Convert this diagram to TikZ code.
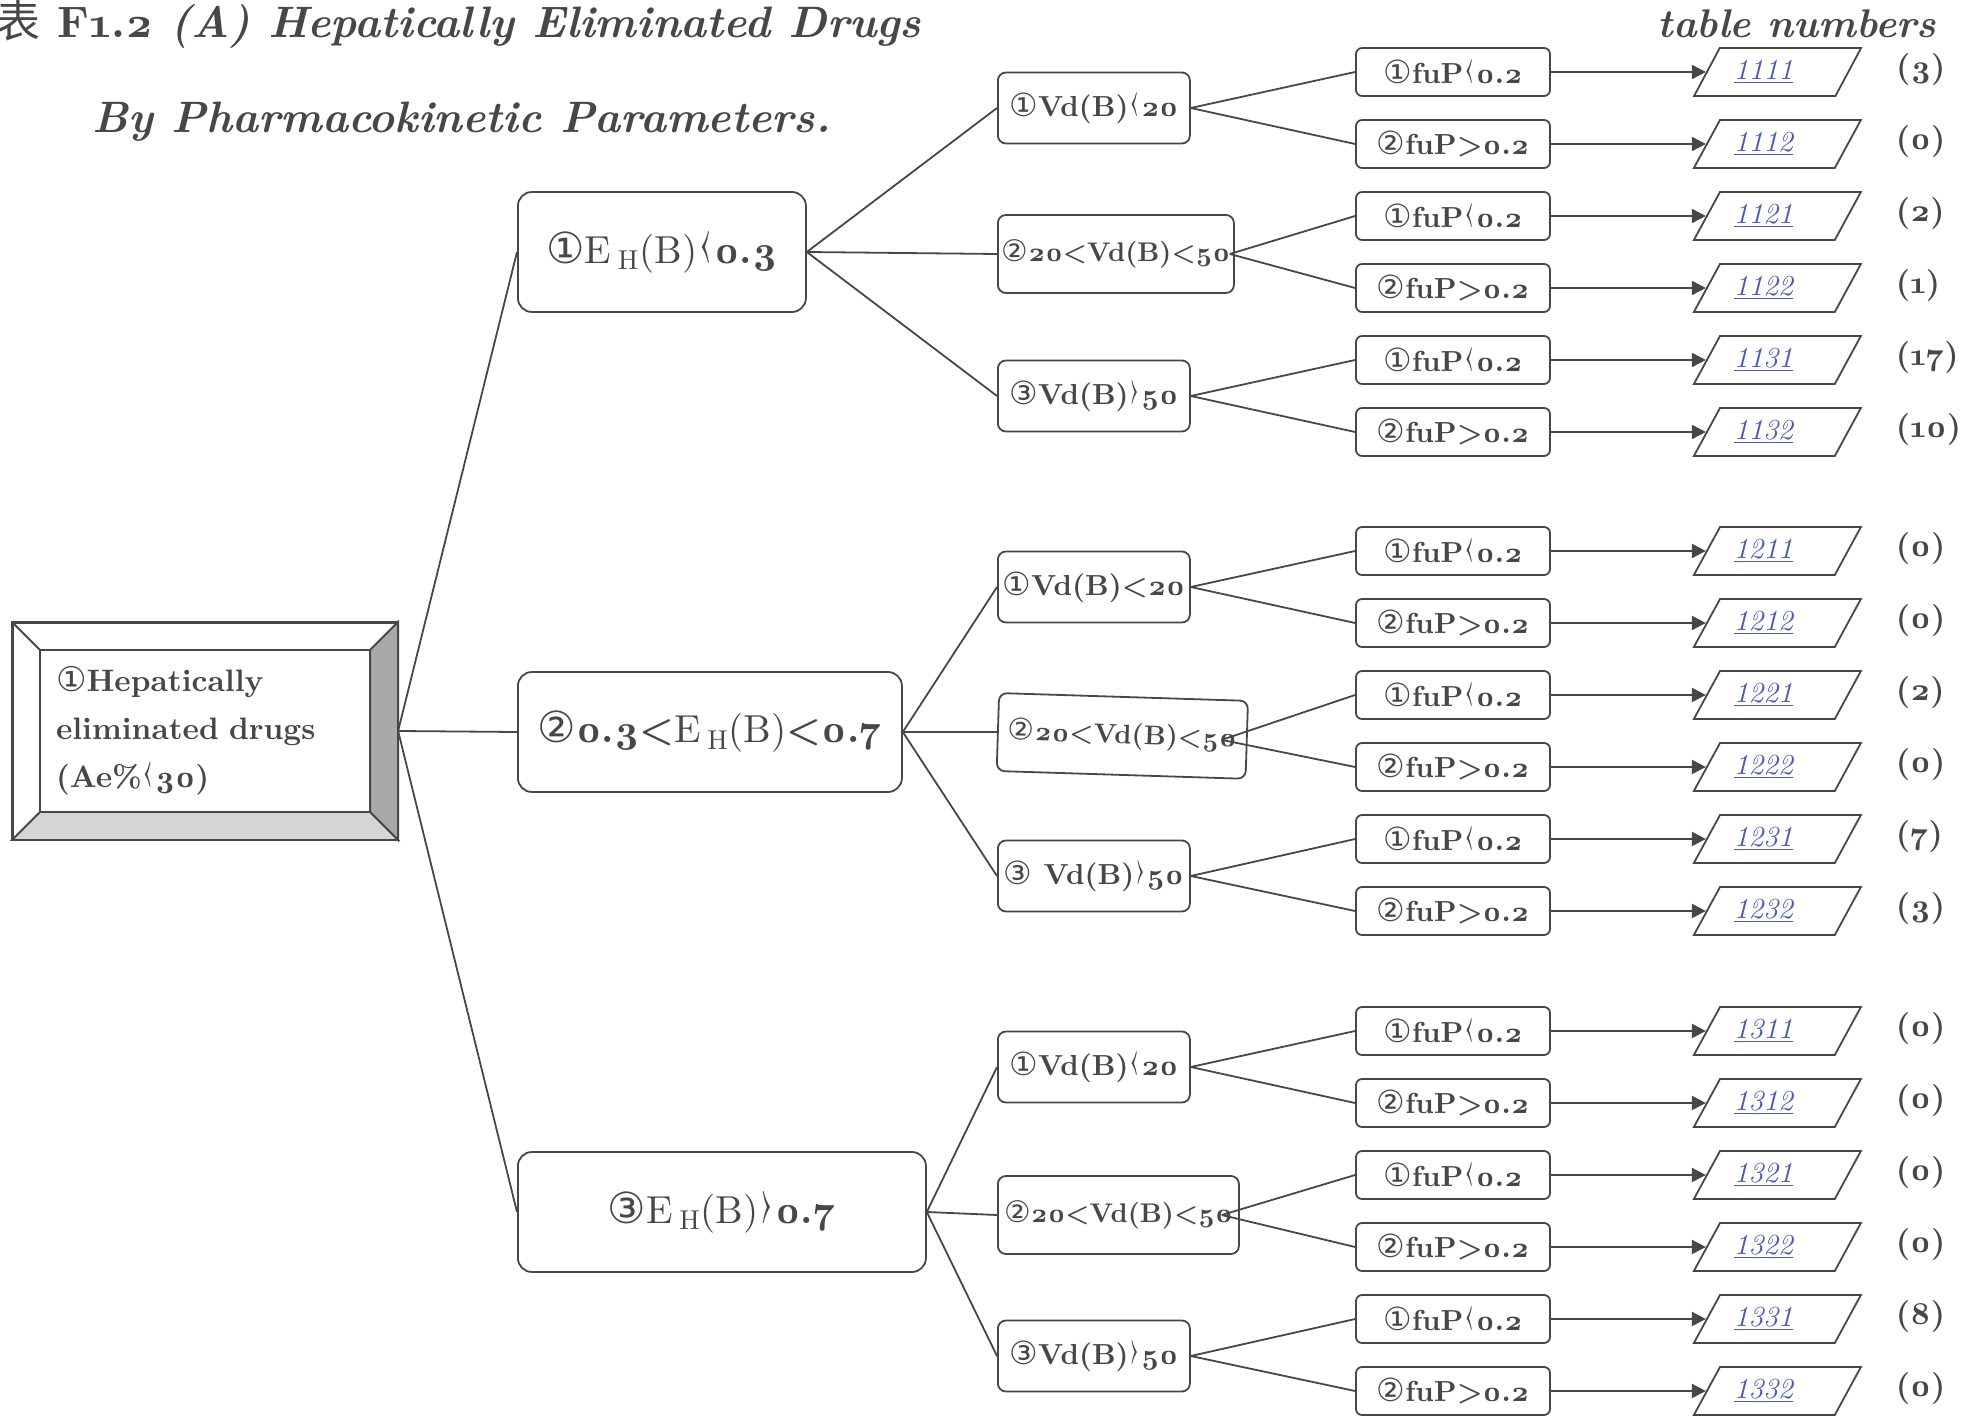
\documentclass[tikz,border=0pt]{standalone}
\usepackage{fontspec}
\setmainfont{lmroman10}[Extension=.otf, UprightFont=*-regular, BoldFont=*-bold,
  ItalicFont=*-italic, BoldItalicFont=*-bolditalic, Numbers=OldStyle]
\newfontfamily\cjk{Noto Sans CJK SC}
\newfontfamily\circfont{DejaVu Sans}
\usetikzlibrary{shapes.geometric,positioning,arrows.meta}
\definecolor{ink}{HTML}{474747}
\definecolor{linkblue}{HTML}{4A5BB0}
\definecolor{bevelside}{HTML}{A9A9AB}
\definecolor{bevelbottom}{HTML}{D5D5D7}
\newcommand{\ci}[1]{{\circfont\mdseries\scalebox{1.1}{#1}}}
\newcommand{\thinlt}{{\mdseries\scalebox{1.1}[1.7]{‹}}}
\newcommand{\thingt}{{\mdseries\scalebox{1.1}[1.7]{›}}}
\newcommand{\link}[1]{\textcolor{linkblue}{\addfontfeatures{Numbers=Lining}\underline{#1}}}
\tikzstyle{title} = [inner sep=0pt, font=\bfseries\fontsize{22}{26}\selectfont]
\tikzstyle{rootbox} = [draw, rectangle, line width=1.1pt, minimum width=192pt, minimum height=108pt, inner sep=0pt, text width=149pt, align=left, font=\bfseries\fontsize{15.5}{24}\selectfont]
\tikzstyle{ehbox} = [draw, rectangle, rounded corners=7pt, minimum height=60pt, font=\fontsize{19.5}{22}\selectfont]
\tikzstyle{vdbox} = [draw, rectangle, rounded corners=4pt, minimum width=96pt, minimum height=35.5pt, inner sep=1pt, font=\bfseries\fontsize{14.5}{16}\selectfont]
\tikzstyle{fubox} = [draw, rectangle, rounded corners=3pt, minimum width=97pt, minimum height=24pt, font=\bfseries\fontsize{14.5}{16}\selectfont]
\tikzstyle{tabno} = [draw, trapezium, trapezium left angle=55, trapezium right angle=125, trapezium stretches body, minimum width=83.5pt, minimum height=24pt, font=\itshape\fontsize{14.5}{16}\selectfont]
\tikzstyle{count} = [inner sep=0pt, yshift=1.5pt, font=\bfseries\fontsize{16}{18}\selectfont]

\begin{document}
\begin{tikzpicture}[x=0.5pt, y=-0.5pt, color=ink, line width=0.9pt, >={Triangle[length=7pt,width=7pt]}]
    \useasboundingbox (0,0) rectangle (1982,1416);

    % heading
    \node [title, anchor=base west] (title1) at (-4,38) {{\cjk\mdseries 表} F1.2 \textit{(A) Hepatically Eliminated Drugs}};
    \node [title, anchor=base west] (title2) at (92,133) {\textit{By Pharmacokinetic Parameters.}};
    \node [title, font=\bfseries\fontsize{20}{24}\selectfont, anchor=base east] (tabhead) at (1937,38) {\textit{table numbers}};

    % root with bevel
    \node [rootbox] (root) at (205,731) {\ci{①}Hepatically\\eliminated drugs\\(Ae\%\thinlt30)};
    \draw [fill=bevelside] (root.north east) -- ([xshift=-14pt,yshift=-14pt]root.north east) -- ([xshift=-14pt,yshift=14pt]root.south east) -- (root.south east) -- cycle;
    \draw [fill=bevelbottom] (root.south west) -- ([xshift=14pt,yshift=14pt]root.south west) -- ([xshift=-14pt,yshift=14pt]root.south east) -- (root.south east) -- cycle;
    \draw ([xshift=14pt,yshift=-14pt]root.north west) rectangle ([xshift=-14pt,yshift=14pt]root.south east);
    \draw (root.north west) -- ([xshift=14pt,yshift=-14pt]root.north west);
    \draw [line width=1.1pt] (root.north west) rectangle (root.south east);

    % E_H level
    \node [ehbox, minimum width=144pt, anchor=west] (eh1) at (517,252) {\ci{①}E\,\textsubscript{H}(B)\thinlt\textbf{0.3}};
    \node [ehbox, minimum width=192pt, anchor=west] (eh2) at (517,732) {\ci{②}\textbf{0.3<}E\,\textsubscript{H}(B)\textbf{<0.7}};
    \node [ehbox, minimum width=204pt, anchor=west] (eh3) at (517,1212) {\ci{③}E\,\textsubscript{H}(B)\thingt\textbf{0.7}};
    \draw (root.east) -- (eh1.west);
    \draw (root.east) -- (eh2.west);
    \draw (root.east) -- (eh3.west);

    % Vd level
    \node [vdbox, anchor=west] (v11) at (997,108) {\ci{①}Vd(B)\thinlt20};
    \node [vdbox, minimum width=118pt, minimum height=39pt, font=\bfseries\fontsize{13.5}{16}\selectfont, anchor=west] (v12) at (997,254) {\ci{②}20<Vd(B)<50};
    \node [vdbox, anchor=west] (v13) at (997,396) {\ci{③}Vd(B)\thingt50};
    \node [vdbox, anchor=west] (v21) at (997,587) {\ci{①}Vd(B)<20};
    \node [vdbox, minimum width=124.5pt, minimum height=39pt, font=\bfseries\fontsize{13.5}{16}\selectfont, rotate=-1.8, anchor=west] (v22) at (997,732) {\ci{②}20<Vd(B)<50};
    \node [vdbox, anchor=west] (v23) at (997,876) {\ci{③} Vd(B)\thingt50};
    \node [vdbox, anchor=west] (v31) at (997,1067) {\ci{①}Vd(B)\thinlt20};
    \node [vdbox, minimum width=120.5pt, minimum height=39pt, font=\bfseries\fontsize{13.5}{16}\selectfont, anchor=west] (v32) at (997,1215) {\ci{②}20<Vd(B)<50};
    \node [vdbox, anchor=west] (v33) at (997,1356) {\ci{③}Vd(B)\thingt50};
    \draw (eh1.east) -- (v11.west);
    \draw (eh1.east) -- (v12.west);
    \draw (eh1.east) -- (v13.west);
    \draw (eh2.east) -- (v21.west);
    \draw (eh2.east) -- (v22.west);
    \draw (eh2.east) -- (v23.west);
    \draw (eh3.east) -- (v31.west);
    \draw (eh3.east) -- (v32.west);
    \draw (eh3.east) -- (v33.west);

    % fuP level, table numbers and counts
    \node [fubox] (f111) at (1453,72) {\ci{①}fuP\thinlt0.2};
    \node [tabno, right=77.5pt of f111] (t111) {\link{1111}\hspace*{14pt}};
    \node [count, right=23pt of t111] (c111) {(3)};
    \node [fubox] (f112) at (1453,144) {\ci{②}fuP>0.2};
    \node [tabno, right=77.5pt of f112] (t112) {\link{1112}\hspace*{14pt}};
    \node [count, right=23pt of t112] (c112) {(0)};
    \node [fubox] (f121) at (1453,216) {\ci{①}fuP\thinlt0.2};
    \node [tabno, right=77.5pt of f121] (t121) {\link{1121}\hspace*{14pt}};
    \node [count, right=23pt of t121] (c121) {(2)};
    \node [fubox] (f122) at (1453,288) {\ci{②}fuP>0.2};
    \node [tabno, right=77.5pt of f122] (t122) {\link{1122}\hspace*{14pt}};
    \node [count, right=23pt of t122] (c122) {(1)};
    \node [fubox] (f131) at (1453,360) {\ci{①}fuP\thinlt0.2};
    \node [tabno, right=77.5pt of f131] (t131) {\link{1131}\hspace*{14pt}};
    \node [count, right=23pt of t131] (c131) {(17)};
    \node [fubox] (f132) at (1453,432) {\ci{②}fuP>0.2};
    \node [tabno, right=77.5pt of f132] (t132) {\link{1132}\hspace*{14pt}};
    \node [count, right=23pt of t132] (c132) {(10)};

    \node [fubox] (f211) at (1453,551) {\ci{①}fuP\thinlt0.2};
    \node [tabno, right=77.5pt of f211] (t211) {\link{1211}\hspace*{14pt}};
    \node [count, right=23pt of t211] (c211) {(0)};
    \node [fubox] (f212) at (1453,623) {\ci{②}fuP>0.2};
    \node [tabno, right=77.5pt of f212] (t212) {\link{1212}\hspace*{14pt}};
    \node [count, right=23pt of t212] (c212) {(0)};
    \node [fubox] (f221) at (1453,695) {\ci{①}fuP\thinlt0.2};
    \node [tabno, right=77.5pt of f221] (t221) {\link{1221}\hspace*{14pt}};
    \node [count, right=23pt of t221] (c221) {(2)};
    \node [fubox] (f222) at (1453,767) {\ci{②}fuP>0.2};
    \node [tabno, right=77.5pt of f222] (t222) {\link{1222}\hspace*{14pt}};
    \node [count, right=23pt of t222] (c222) {(0)};
    \node [fubox] (f231) at (1453,839) {\ci{①}fuP\thinlt0.2};
    \node [tabno, right=77.5pt of f231] (t231) {\link{1231}\hspace*{14pt}};
    \node [count, right=23pt of t231] (c231) {(7)};
    \node [fubox] (f232) at (1453,911) {\ci{②}fuP>0.2};
    \node [tabno, right=77.5pt of f232] (t232) {\link{1232}\hspace*{14pt}};
    \node [count, right=23pt of t232] (c232) {(3)};

    \node [fubox] (f311) at (1453,1031) {\ci{①}fuP\thinlt0.2};
    \node [tabno, right=77.5pt of f311] (t311) {\link{1311}\hspace*{14pt}};
    \node [count, right=23pt of t311] (c311) {(0)};
    \node [fubox] (f312) at (1453,1103) {\ci{②}fuP>0.2};
    \node [tabno, right=77.5pt of f312] (t312) {\link{1312}\hspace*{14pt}};
    \node [count, right=23pt of t312] (c312) {(0)};
    \node [fubox] (f321) at (1453,1175) {\ci{①}fuP\thinlt0.2};
    \node [tabno, right=77.5pt of f321] (t321) {\link{1321}\hspace*{14pt}};
    \node [count, right=23pt of t321] (c321) {(0)};
    \node [fubox] (f322) at (1453,1247) {\ci{②}fuP>0.2};
    \node [tabno, right=77.5pt of f322] (t322) {\link{1322}\hspace*{14pt}};
    \node [count, right=23pt of t322] (c322) {(0)};
    \node [fubox] (f331) at (1453,1319) {\ci{①}fuP\thinlt0.2};
    \node [tabno, right=77.5pt of f331] (t331) {\link{1331}\hspace*{14pt}};
    \node [count, right=23pt of t331] (c331) {(8)};
    \node [fubox] (f332) at (1453,1391) {\ci{②}fuP>0.2};
    \node [tabno, right=77.5pt of f332] (t332) {\link{1332}\hspace*{14pt}};
    \node [count, right=23pt of t332] (c332) {(0)};

    \draw (v11.east) -- (f111.west);
    \draw (v11.east) -- (f112.west);
    \draw ([xshift=-2.5pt]v12.east) -- (f121.west);
    \draw ([xshift=-2.5pt]v12.east) -- (f122.west);
    \draw (v13.east) -- (f131.west);
    \draw (v13.east) -- (f132.west);
    \draw (v21.east) -- (f211.west);
    \draw (v21.east) -- (f212.west);
    \draw ([xshift=-13pt]v22.east) -- (f221.west);
    \draw ([xshift=-13pt]v22.east) -- (f222.west);
    \draw (v23.east) -- (f231.west);
    \draw (v23.east) -- (f232.west);
    \draw (v31.east) -- (f311.west);
    \draw (v31.east) -- (f312.west);
    \draw ([xshift=-9pt]v32.east) -- (f321.west);
    \draw ([xshift=-9pt]v32.east) -- (f322.west);
    \draw (v33.east) -- (f331.west);
    \draw (v33.east) -- (f332.west);

    \draw [->] (f111) -- (t111);
    \draw [->] (f112) -- (t112);
    \draw [->] (f121) -- (t121);
    \draw [->] (f122) -- (t122);
    \draw [->] (f131) -- (t131);
    \draw [->] (f132) -- (t132);
    \draw [->] (f211) -- (t211);
    \draw [->] (f212) -- (t212);
    \draw [->] (f221) -- (t221);
    \draw [->] (f222) -- (t222);
    \draw [->] (f231) -- (t231);
    \draw [->] (f232) -- (t232);
    \draw [->] (f311) -- (t311);
    \draw [->] (f312) -- (t312);
    \draw [->] (f321) -- (t321);
    \draw [->] (f322) -- (t322);
    \draw [->] (f331) -- (t331);
    \draw [->] (f332) -- (t332);
\end{tikzpicture}
\end{document}
